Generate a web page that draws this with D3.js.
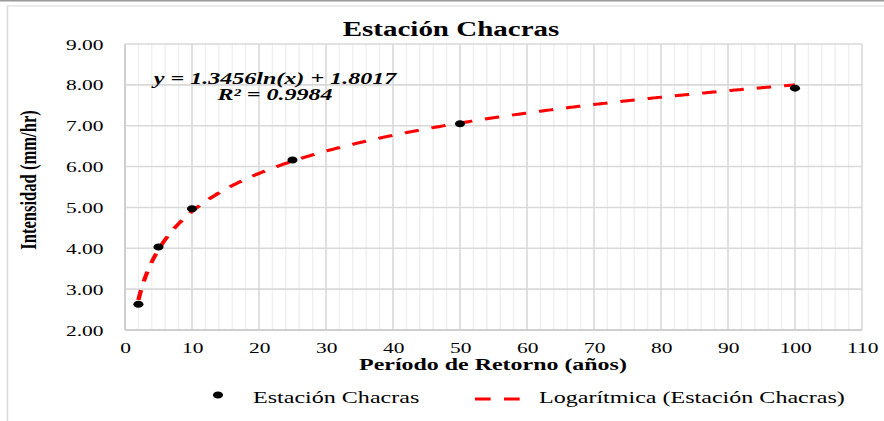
<!DOCTYPE html>
<html>
<head>
<meta charset="utf-8">
<script src="https://cdn.jsdelivr.net/npm/d3@7"></script>
<style>
  html, body { margin: 0; padding: 0; background: #fff; }
  svg { display: block; }
  text { font-family: "Liberation Serif", Tinos, "Times New Roman", Times, "DejaVu Serif", serif; fill: #000; }
</style>
</head>
<body>
<div id="chart"></div>
<script>
// Return period (years) and rainfall intensity (mm/hr) for the Chacras station
const periods = [2, 5, 10, 25, 50, 100];
const intensities = [2.63, 4.03, 4.97, 6.16, 7.05, 7.92];

// Logarithmic fit: y = a ln(x) + b
const fitCoef = [1.3456, 1.8017];
const fitR2 = 0.9984;
const fitRange = [2, 100];

const xTicks = [0, 10, 20, 30, 40, 50, 60, 70, 80, 90, 100, 110];
const xMinor = d3.range(0, 111, 2);
const yTicks = [2, 3, 4, 5, 6, 7, 8, 9];

const chartTitle = "Estación Chacras";
const xTitle = "Período de Retorno (años)";
const yTitle = "Intensidad (mm/hr)";
const seriesName = "Estación Chacras";
const trendName = "Logarítmica (Estación Chacras)";

const SERIF = '"Liberation Serif", Tinos, "Times New Roman", Times, "DejaVu Serif", serif';

// Drawing is done in a horizontally widened coordinate space
const W = 884, H = 421, SX = 1.45;
const px = v => v / SX;

const svg = d3.select("#chart").append("svg")
  .attr("width", W).attr("height", H)
  .attr("viewBox", `0 0 ${W / SX} ${H}`)
  .attr("preserveAspectRatio", "none")
  .style("font-family", SERIF);

// Frame
svg.append("line").attr("x1", 0).attr("x2", px(W)).attr("y1", 0.75).attr("y2", 0.75)
  .attr("stroke", "#9a9a9a").attr("stroke-width", 1.5);
svg.append("rect").attr("x", px(7.5)).attr("y", 6).attr("width", px(W + 20)).attr("height", H)
  .attr("fill", "#fff").attr("stroke", "#d9d9d9").attr("stroke-width", 1.5 / SX);

const x = d3.scaleLinear().domain([0, 110]).range([px(125), px(862)]);
const y = d3.scaleLinear().domain([2, 9]).range([330, 44]);

const grid = svg.append("g");
// minor vertical gridlines
grid.selectAll("line.minor").data(xMinor.filter(d => d % 10 !== 0)).join("line")
  .attr("x1", d => x(d)).attr("x2", d => x(d)).attr("y1", y(9)).attr("y2", y(2))
  .attr("stroke", "#eeeeee").attr("stroke-width", 1.3 / SX);
// major vertical gridlines
grid.selectAll("line.majx").data(xTicks).join("line")
  .attr("x1", d => x(d)).attr("x2", d => x(d)).attr("y1", y(9)).attr("y2", y(2))
  .attr("stroke", "#d9d9d9").attr("stroke-width", 1.6 / SX);
// horizontal gridlines
grid.selectAll("line.majy").data(yTicks).join("line")
  .attr("x1", x(0)).attr("x2", x(110)).attr("y1", d => y(d)).attr("y2", d => y(d))
  .attr("stroke", "#d9d9d9").attr("stroke-width", 1.6);
// axis lines
svg.append("line").attr("x1", x(0)).attr("x2", x(110)).attr("y1", y(2)).attr("y2", y(2))
  .attr("stroke", "#cfcfcf").attr("stroke-width", 2);
svg.append("line").attr("x1", x(0)).attr("x2", x(0)).attr("y1", y(9)).attr("y2", y(2))
  .attr("stroke", "#cfcfcf").attr("stroke-width", 2 / SX);

// Axes (tick labels only)
const xAxis = svg.append("g").attr("transform", `translate(0,${y(2)})`)
  .call(d3.axisBottom(x).tickValues(xTicks).tickSize(0).tickPadding(0).tickFormat(d3.format("d")));
xAxis.attr("font-family", SERIF).attr("font-size", 14.8);
xAxis.select(".domain").remove();
xAxis.selectAll("text").attr("dy", null).attr("y", 23.5).attr("fill", "#000");

const yAxis = svg.append("g").attr("transform", `translate(${px(103.5)},0)`)
  .call(d3.axisLeft(y).tickValues(yTicks).tickSize(0).tickPadding(0).tickFormat(d3.format(".2f")));
yAxis.attr("font-family", SERIF).attr("font-size", 14.8);
yAxis.select(".domain").remove();
yAxis.selectAll("text").attr("dy", null).attr("x", 0).attr("y", 5).attr("fill", "#000");

// Trendline from the fitted equation
const fitX = d3.range(fitRange[0], fitRange[1] + 0.001, 0.25);
const line = d3.line().x(d => x(d)).y(d => y(fitCoef[0] * Math.log(d) + fitCoef[1]));
svg.append("path").datum(fitX).attr("d", line)
  .attr("fill", "none").attr("stroke", "#ff0000").attr("stroke-width", 3)
  .attr("stroke-dasharray", "10,9").attr("stroke-linecap", "butt");

// Observed points
svg.selectAll("circle.pt").data(periods).join("circle")
  .attr("cx", (d) => x(d)).attr("cy", (d, i) => y(intensities[i]))
  .attr("r", 3.5).attr("fill", "#000");

// Title
svg.append("text").attr("x", px(451)).attr("y", 36).attr("text-anchor", "middle")
  .style("font-size", "20px").style("font-weight", "bold").text(chartTitle);

// Axis titles
svg.append("text").attr("x", px(493)).attr("y", 370).attr("text-anchor", "middle")
  .style("font-size", "16.5px").style("font-weight", "bold").text(xTitle);
svg.append("text").attr("transform", `translate(${px(35.5)},180) rotate(-90)`)
  .attr("text-anchor", "middle")
  .style("font-size", "16.6px").style("font-weight", "bold").text(yTitle);

// Equation and R²
svg.append("text").attr("x", px(275)).attr("y", 84.5).attr("text-anchor", "middle")
  .style("font-size", "16.6px").style("font-weight", "bold").style("font-style", "italic")
  .text(`y = ${fitCoef[0]}ln(x) + ${fitCoef[1]}`);
svg.append("text").attr("x", px(275)).attr("y", 100.5).attr("text-anchor", "middle")
  .style("font-size", "16.6px").style("font-weight", "bold").style("font-style", "italic")
  .text(`R² = ${fitR2}`);

// Legend
svg.append("circle").attr("cx", px(218)).attr("cy", 395).attr("r", 3.5).attr("fill", "#000");
svg.append("text").attr("x", px(253)).attr("y", 403)
  .style("font-size", "16.6px").text(seriesName);
svg.append("line").attr("x1", px(475)).attr("x2", px(520)).attr("y1", 399).attr("y2", 399)
  .attr("stroke", "#ff0000").attr("stroke-width", 3).attr("stroke-dasharray", "10.8,9.2");
svg.append("text").attr("x", px(539)).attr("y", 403)
  .style("font-size", "16.6px").text(trendName);
</script>
</body>
</html>
